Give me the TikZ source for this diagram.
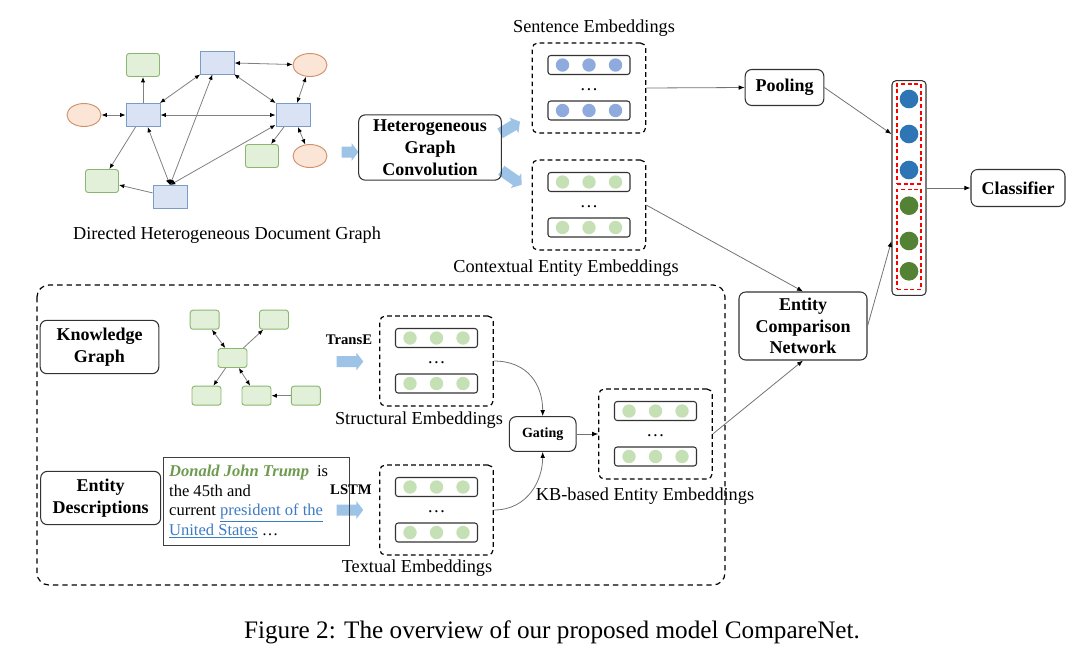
\documentclass[tikz,border=0pt]{standalone}
\usepackage{fontspec}
\setmainfont{Liberation Serif}
\usetikzlibrary{arrows.meta,shapes.geometric,shapes.misc}
\definecolor{docfill}{HTML}{DAE3F3}
\definecolor{docline}{HTML}{7A9CC6}
\definecolor{entfill}{HTML}{E2F0D9}
\definecolor{entline}{HTML}{8AB66E}
\definecolor{topfill}{HTML}{FBE5D6}
\definecolor{topline}{HTML}{D0916A}
\definecolor{fatblue}{HTML}{9DC3E6}
\definecolor{sdot}{HTML}{8FAADC}
\definecolor{gdot}{HTML}{C5E0B4}
\definecolor{bigblue}{HTML}{2E75B6}
\definecolor{biggreen}{HTML}{548235}
\definecolor{trumpgreen}{HTML}{6E9B50}
\definecolor{linkblue}{HTML}{3B7BC4}
\definecolor{edgegray}{HTML}{808080}

\tikzset{
  doc/.style={chamfered rectangle, chamfered rectangle corners=south east, chamfered rectangle xsep=3.5pt, chamfered rectangle ysep=3.5pt, draw=docline, fill=docfill, line width=0.7pt, minimum width=25.5pt, minimum height=17.25pt, inner sep=0pt},
  ent/.style={rectangle, rounded corners=2pt, draw=entline, fill=entfill, line width=0.7pt, minimum width=24.75pt, minimum height=17.25pt, inner sep=0pt},
  kgent/.style={ent, minimum width=21.75pt, minimum height=14.25pt},
  topic/.style={ellipse, draw=topline, fill=topfill, line width=0.7pt, minimum width=25.5pt, minimum height=17.25pt, inner sep=0pt},
  blk/.style={draw=black!80, rounded corners=5pt, line width=0.8pt, align=center, inner sep=2pt, font=\fontsize{13.5}{16.3}\selectfont\bfseries},
  embbox/.style={draw, dash pattern=on 3.5pt off 2.5pt, rounded corners=4pt, line width=0.9pt, minimum width=85pt, minimum height=67.5pt, inner sep=0pt},
  rowbox/.style={draw=black!80, rounded corners=2pt, line width=0.8pt, minimum width=61.5pt, minimum height=14.25pt, inner sep=0pt},
  lbl/.style={font=\fontsize{13.7}{16}\selectfont, inner sep=0pt},
  gedge/.style={draw=edgegray, line width=0.6pt, -{Latex[length=4pt,width=3.2pt,color=black]}},
  gbedge/.style={draw=edgegray, line width=0.6pt, {Latex[length=4pt,width=3.2pt,color=black]}-{Latex[length=4pt,width=3.2pt,color=black]}},
  link/.style={draw=black!55, line width=0.6pt, -{Latex[length=4.5pt,width=3.5pt,color=black]}}
}

\begin{document}
\begin{tikzpicture}[x=0.75pt,y=0.75pt,yscale=-1,xscale=1]
\useasboundingbox (0,0) rectangle (1080,651);

%Directed heterogeneous document graph
\node[doc] (sentA) at (217,62.5) {};
\node[doc] (sentB) at (143,115) {};
\node[doc] (sentC) at (293,115) {};
\node[doc] (sentD) at (170,197) {};
\node[ent] (entA) at (143,65) {};
\node[ent] (entB) at (102,181) {};
\node[ent] (entC) at (262,156) {};
\node[topic] (topA) at (310,65) {};
\node[topic] (topB) at (84,115) {};
\node[topic] (topC) at (310,156) {};

\draw[gedge] (sentB) -- (entA);
\draw[gbedge] (sentB) -- (sentA);
\draw[gbedge] (topB) -- (sentB);
\draw[gbedge] (sentB) -- (sentC);
\draw[gbedge] (sentA) -- (topA);
\draw[gbedge] (sentA) -- (sentC);
\draw[gbedge] (topA) -- (sentC);
\draw[gedge] (sentC) -- (entC);
\draw[gbedge] (sentC) -- (topC);
\draw[gedge] (sentB) -- (entB);
\draw[gbedge] (sentB) -- (sentD.north);
\draw[gbedge] (sentD.north) -- (sentA);
\draw[gbedge] (sentD.north) -- (sentC);
\draw[gedge] (sentD) -- (entB);

% Text Node
\node[lbl] (graphlbl) at (227,235) {Directed Heterogeneous Document Graph};

%Block arrows
\foreach \px/\py/\ang/\hl in {350/152/0/8.5, 350/361.5/0/13.3, 350/510/0/13.3, 510/127.5/-30/11.5, 511.5/177.5/35/12.5}
  \fill[fatblue, shift={(\px,\py)}, rotate=\ang] (-\hl,-5.5) -- (\hl-7,-5.5) -- (\hl-7,-9) -- (\hl,0) -- (\hl-7,9) -- (\hl-7,5.5) -- (-\hl,5.5) -- cycle;

%Graph convolution
\node[blk, minimum width=107pt, minimum height=49pt] (hgc) at (430,147.5) {Heterogeneous\\Graph\\Convolution};

%Embedding boxes
\foreach \nm/\cx/\cy/\dc in {sent/589/88/sdot, ctx/589/205/gdot, struc/436.5/361/gdot, text/436.5/510/gdot, kb/655.5/434/gdot}{
  \node[embbox] (\nm) at (\cx,\cy) {};
  \node[rowbox] (\nm1) at (\cx,\cy-23) {};
  \node[rowbox] (\nm2) at (\cx,\cy+22.5) {};
  \node[lbl, anchor=base] (\nm dots) at (\cx,\cy+2) {\dots};
  \foreach \dx in {-26.5,0,26.5}{
    \fill[\dc] (\cx+\dx,\cy-23) circle (6.7);
    \fill[\dc] (\cx+\dx,\cy+22.5) circle (6.7);
  }
}

% Text Node
\node[lbl] (sentlbl) at (594,28) {Sentence Embeddings};
\node[lbl] (ctxlbl) at (566,268) {Contextual Entity Embeddings};
\node[lbl] (struclbl) at (419,420) {Structural Embeddings};
\node[lbl] (textlbl) at (417,568) {Textual Embeddings};
\node[lbl] (kblbl) at (645,496) {KB-based Entity Embeddings};

%Right part
\node[blk, minimum width=59pt, minimum height=27pt] (pool) at (784.5,87.5) {Pooling};
\node[draw=black!80, rounded corners=3pt, line width=0.8pt, minimum width=25.5pt, minimum height=161pt] (vec) at (909,188) {};
\node[draw=red, dash pattern=on 3pt off 2pt, line width=1.2pt, minimum width=18pt, minimum height=75pt] (vecA) at (909,134) {};
\node[draw=red, dash pattern=on 3pt off 2pt, line width=1.2pt, minimum width=18pt, minimum height=75pt] (vecB) at (909,239.3) {};
\foreach \k/\y in {1/99,2/134,3/170}
  \node[circle, fill=bigblue, minimum size=14pt, inner sep=0pt] (b\k) at (909,\y) {};
\foreach \k/\y in {1/205.7,2/241,3/271.3}
  \node[circle, fill=biggreen, minimum size=14pt, inner sep=0pt] (g\k) at (909,\y) {};
\node[blk, minimum width=70.5pt, minimum height=27.75pt] (cls) at (1018,188) {Classifier};
\node[blk, minimum width=96pt, minimum height=51pt] (ecn) at (803,326) {Entity\\Comparison\\Network};

%Knowledge part
\draw[dash pattern=on 4pt off 3pt, line width=0.9pt, rounded corners=9pt] (37,285) rectangle (725,585);
\node[blk, minimum width=89pt, minimum height=40pt] (kg) at (99.5,347) {Knowledge\\Graph};
\node[blk, minimum width=90pt, minimum height=40pt] (ed) at (100.7,498) {Entity\\Descriptions};

\node[kgent] (kc) at (232.5,358) {};
\node[kgent] (ktl) at (204.7,319.7) {};
\node[kgent] (ktr) at (274,319.7) {};
\node[kgent] (kbl) at (206.5,395.7) {};
\node[kgent] (kbm) at (256.5,395.7) {};
\node[kgent] (kbr) at (305.8,395.7) {};
\draw[gbedge] (kc) -- (ktl);
\draw[gedge] (kc) -- (ktr);
\draw[gedge] (kc) -- (kbl);
\draw[gbedge] (kc) -- (kbm);
\draw[gedge] (kbr) -- (kbm);

\node[draw=black!75, line width=0.8pt, minimum width=140pt, minimum height=66pt, text width=131pt, align=flush left, inner xsep=4.5pt, font=\fontsize{12.4}{14.8}\selectfont] (desc) at (256.5,501.7) {{\color{trumpgreen}\bfseries\itshape Donald John Trump}\hspace{6pt}is\\the 45th and\\current {\color{linkblue}\underline{president of the}}\\{\color{linkblue}\underline{United States}} \dots};

\node[font=\fontsize{11}{13}\selectfont\bfseries, inner sep=0pt] (transe) at (349,340) {TransE};
\node[font=\fontsize{11}{13}\selectfont\bfseries, inner sep=0pt] (lstm) at (351,490) {LSTM};

\node[blk, font=\fontsize{10.5}{12}\selectfont\bfseries, minimum width=50pt, minimum height=26pt] (gate) at (542.7,434) {Gating};

%Connectors
\draw[link] (sent.east) -- (pool.west);
\draw[link] (pool.east) -- (vec.west |- b2);
\draw[link] (vec) -- (cls);
\draw[link] (ctx.east) -- (ecn.north);
\draw[link] (ecn.east) -- (vec.west |- g2);
\draw[link] (kb.east) -- (ecn.south);
\draw[link] (struc.east) .. controls (528,361) and (542.7,385) .. (gate.north);
\draw[link] (text.east) .. controls (528,510) and (542.7,480) .. (gate.south);
\draw[link] (gate) -- (kb);

% Caption
\node[font=\fontsize{18.9}{22}\selectfont, inner sep=0pt] (cap) at (552,632) {Figure 2: The overview of our proposed model CompareNet.};

\end{tikzpicture}
\end{document}
